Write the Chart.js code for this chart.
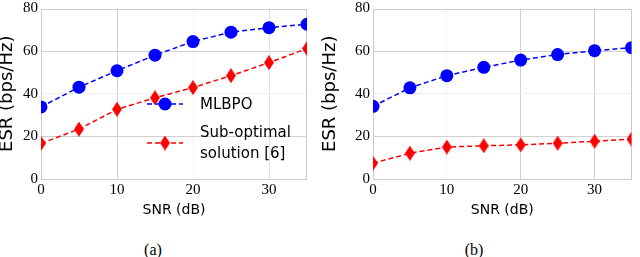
<!DOCTYPE html>
<html>
<head>
<meta charset="utf-8">
<script src="https://cdn.jsdelivr.net/npm/chart.js@4/dist/chart.umd.min.js"></script>
<style>
  html, body { margin: 0; padding: 0; background: #fff; }
  #wrap { position: relative; width: 640px; height: 257px; overflow: hidden; }
  .cv { position: absolute; top: 0; }
  .cap { position: absolute; width: 60px; text-align: center; font-family: "Liberation Serif", "DejaVu Serif", serif; font-size: 16px; line-height: 20px; color: #000; }
</style>
</head>
<body>
<div id="wrap">
  <div class="cv" style="left:0;width:320px;height:225px;"><canvas id="ca"></canvas></div>
  <div class="cv" style="left:320px;width:320px;height:225px;"><canvas id="cb"></canvas></div>
  <div class="cap" style="left:123px;top:240px;">(a)</div>
  <div class="cap" style="left:444px;top:240px;">(b)</div>
</div>
<script>
// ---- data ----
const snr = [0, 5, 10, 15, 20, 25, 30, 35];
const xTicks = [0, 10, 20, 30];
const yTicks = [0, 20, 40, 60, 80];
const mlbpoA = [33.8, 43.1, 50.8, 58.1, 64.5, 68.9, 71.0, 72.6];
const subA   = [16.7, 23.4, 32.7, 38.1, 42.9, 48.5, 54.6, 61.2];
const mlbpoB = [34.1, 42.8, 48.5, 52.4, 55.8, 58.4, 60.2, 61.6];
const subB   = [7.4, 12.1, 15.0, 15.6, 16.0, 16.8, 17.7, 18.7];
const seriesNames = ['MLBPO', 'Sub-optimal\nsolution [6]'];
const xTitle = 'SNR (dB)';
const yTitle = 'ESR (bps/Hz)';

const BLUE = '#0000ff', RED = '#ff0000';
const SERIF = '"Liberation Serif", "Times New Roman", serif';

function diamond(w, h, color) {
  const c = document.createElement('canvas');
  c.width = w; c.height = h;
  const g = c.getContext('2d');
  g.fillStyle = color;
  g.beginPath();
  g.moveTo(w / 2, 0); g.lineTo(w, h / 2); g.lineTo(w / 2, h); g.lineTo(0, h / 2);
  g.closePath(); g.fill();
  return c;
}
const dia = diamond(10, 15, RED);

function pts(arr) { return snr.map((x, i) => ({ x: x, y: arr[i] })); }

const frame = {
  id: 'frame',
  beforeDatasetsDraw(chart) {
    const a = chart.chartArea, ctx = chart.ctx;
    ctx.save();
    ctx.strokeStyle = '#cccccc';
    ctx.lineWidth = 1;
    ctx.strokeRect(Math.round(a.left) + 0.5, Math.round(a.top) + 0.5,
                   Math.round(a.right - a.left) - 1, Math.round(a.bottom - a.top) - 1);
    ctx.restore();
  }
};

const legendPlugin = {
  id: 'inlegend',
  afterDatasetsDraw(chart, args, opts) {
    if (!opts || !opts.show) return;
    const ctx = chart.ctx;
    ctx.save();
    const x0 = 147, x1 = 183, xm = 165, tx = 200;
    const rows = [
      { y: 104, color: BLUE, ds: 0, lines: [104] },
      { y: 143, color: RED, ds: 1, lines: [132, 153] }
    ];
    rows.forEach(r => {
      ctx.strokeStyle = r.color;
      ctx.lineWidth = 1.5;
      ctx.setLineDash([5, 3]);
      ctx.beginPath(); ctx.moveTo(x0, r.y); ctx.lineTo(x1, r.y); ctx.stroke();
      ctx.setLineDash([]);
      if (r.ds === 0) {
        ctx.fillStyle = BLUE;
        ctx.beginPath(); ctx.arc(xm, r.y, 6.5, 0, Math.PI * 2); ctx.fill();
      } else {
        ctx.drawImage(dia, xm - 5, r.y - 7.5);
      }
      ctx.fillStyle = '#000';
      ctx.font = '15px "DejaVu Sans", sans-serif';
      ctx.textBaseline = 'middle';
      ctx.textAlign = 'left';
      const txt = chart.data.datasets[r.ds].label.split('\n');
      txt.forEach((t, i) => ctx.fillText(t, tx, r.lines[i] + 1));
    });
    ctx.restore();
  }
};

function makeChart(id, blue, red, opt) {
  const gridX = opt.gridX, gridY = { 0: 'rgba(0,0,0,0)', 20: '#d0d0d0', 40: '#efefef', 60: '#d0d0d0', 80: 'rgba(0,0,0,0)' };
  return new Chart(document.getElementById(id), {
    type: 'line',
    data: {
      datasets: [
        { label: seriesNames[0], data: pts(blue), borderColor: BLUE, backgroundColor: BLUE,
          borderWidth: 1.5, borderDash: [5, 3], pointStyle: 'circle', pointRadius: 6.5,
          pointHoverRadius: 6.5, pointBorderWidth: 0, tension: 0, clip: 0 },
        { label: seriesNames[1], data: pts(red), borderColor: RED, backgroundColor: RED,
          borderWidth: 1.5, borderDash: [5, 3], pointStyle: dia, pointRadius: 7,
          pointHoverRadius: 7, tension: 0, clip: 0 }
      ]
    },
    options: {
      responsive: true,
      maintainAspectRatio: false,
      animation: false,
      events: [],
      layout: { padding: { left: 0, right: opt.padRight, top: 7, bottom: 0 } },
      plugins: { legend: { display: false }, tooltip: { enabled: false },
                 inlegend: { show: opt.legend } },
      scales: {
        x: {
          type: 'linear', min: 0, max: 35,
          afterBuildTicks: s => { s.ticks = xTicks.map(v => ({ value: v })); },
          afterFit: s => { s.height = 46; s.paddingLeft = 0; s.paddingRight = 0; },
          grid: { drawTicks: false, color: c => gridX[c.tick && c.tick.value] || 'rgba(0,0,0,0)', lineWidth: 1 },
          border: { display: false },
          ticks: { padding: 2, maxRotation: 0, color: '#000',
                   font: { family: SERIF, size: 15 } },
          title: { display: true, text: xTitle, color: '#000',
                   font: { family: '"DejaVu Sans", sans-serif', size: 14, lineHeight: 1.2 },
                   padding: { top: 0, bottom: 6 } }
        },
        y: {
          type: 'linear', min: 0, max: 80,
          afterBuildTicks: s => { s.ticks = yTicks.map(v => ({ value: v })); },
          afterFit: s => { s.width = opt.yWidth; s.paddingTop = 0; s.paddingBottom = 0; },
          grid: { drawTicks: false, color: c => gridY[c.tick && c.tick.value] || 'rgba(0,0,0,0)', lineWidth: 1 },
          border: { display: false },
          ticks: { padding: 3, color: '#000',
                   font: { family: SERIF, size: 15, lineHeight: 0.9 } },
          title: { display: true, text: yTitle, color: '#000',
                   font: { family: '"DejaVu Sans", sans-serif', size: 18, lineHeight: 1 },
                   padding: { top: opt.yTitlePad, bottom: 0 } }
        }
      }
    },
    plugins: [frame, legendPlugin]
  });
}

makeChart('ca', mlbpoA, subA, {
  padRight: 13, yWidth: 41, yTitlePad: -1.5, legend: true,
  gridX: { 10: '#d0d0d0', 20: '#f4f4f4', 30: '#e2e2e2' }
});
makeChart('cb', mlbpoB, subB, {
  padRight: 1, yWidth: 53, yTitlePad: 1.5, legend: false,
  gridX: { 10: '#f4f4f4', 20: '#d0d0d0', 30: '#d0d0d0' }
});
</script>
</body>
</html>
